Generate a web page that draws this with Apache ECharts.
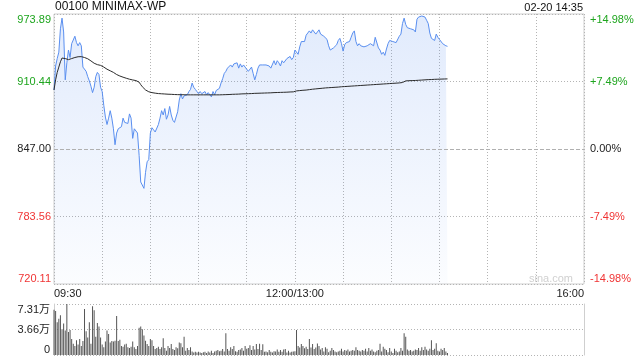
<!DOCTYPE html>
<html>
<head>
<meta charset="utf-8">
<script src="https://cdn.jsdelivr.net/npm/echarts@6/dist/echarts.min.js"></script>
<style>
html,body{margin:0;padding:0;background:#fff;}
#c{width:640px;height:360px;}
</style>
</head>
<body>
<div id="c"></div>
<script>
// ---- data ----
const stockTitle = '00100 MINIMAX-WP';
const stamp = '02-20 14:35';
const prevClose = 847.00;
const halfRange = 126.89;      // 14.98% of previous close
const step = 63.445;
const priceTickLabels = ['720.11', '783.56', '847.00', '910.44', '973.89'];
const pctTickLabels = ['-14.98%', '-7.49%', '0.00%', '+7.49%', '+14.98%'];
const volMax = 7.31;
const volTickLabels = ['0', '3.66万', '7.31万'];
const xTickLabels = {0: '09:30', 150: '12:00/13:00', 330: '16:00'};

const price = [
902.5, 925, 932, 938, 960, 970, 957, 912, 928, 940,
933, 946, 947, 953, 947, 944, 947, 944, 924, 924,
920, 915, 911, 906, 900, 905, 915, 919, 917, 905,
901, 888, 877, 870, 876, 883, 876, 866, 851, 862,
866, 865, 868, 876, 872, 873, 871, 880, 876, 857,
866, 867, 862, 841, 816, 815, 810, 825, 835, 837,
862, 867, 865, 863, 862, 870, 876, 883, 879, 885,
875, 879, 887, 879, 874, 872, 871, 882, 893, 899,
894, 897, 897, 898, 901, 903, 909, 905, 903, 901,
899, 901, 899, 898, 901, 898, 900, 899, 896, 901,
898, 902, 901, 904, 909, 913, 918, 920, 923, 924,
926, 924, 927, 926, 928, 923, 927, 924, 926, 924,
923, 920, 921, 924, 918, 912, 917, 923, 926, 926,
926, 926, 926, 925, 925, 923, 924, 930, 926, 930,
928, 925, 930, 928, 929, 932, 931, 934, 931, 933,
940, 941, 936, 943, 948, 949, 948, 954, 956, 958,
956, 959, 959, 955, 956, 959, 955, 954, 953, 952,
950, 944, 940, 941, 942, 942, 945, 949, 951, 946,
939, 945, 947, 946, 948, 952, 956, 958, 948, 944,
946, 944, 943, 943, 944, 944, 945, 946, 945, 944,
952, 951, 942, 940, 936, 938, 935, 941, 946, 949,
948, 948, 947, 947, 947, 953, 955, 965, 970, 964,
961, 960, 960, 960, 959, 957, 969, 971, 972, 972,
973.5, 971, 968, 965, 956, 951, 952, 949, 955, 952,
950, 951, 946, 945, 944, 943.5
];

const avgPrice = [
902.5, 912, 919, 924, 929, 932.5, 933.5, 932, 931, 931,
931.5, 932, 932.5, 933, 933.5, 933.7, 933.8, 933.8, 933.5, 933,
932.5, 931.8, 930.8, 929.8, 928.6, 927.6, 926.8, 926.3, 926, 925.6,
925, 924, 923, 922, 921.2, 920.5, 919.8, 919, 918, 917,
916.2, 915.6, 915, 914.5, 914, 913.5, 913, 912.6, 912.3, 911.9,
911.6, 911.3, 911, 909.8, 907.5, 905.5, 903.8, 902.5, 901.5, 900.8,
900.3, 900, 899.7, 899.5, 899.3, 899.1, 899, 898.9, 898.8, 898.7,
898.6, 898.5, 898.5, 898.4, 898.3, 898.2, 898.1, 898.1, 898, 898,
898, 898, 897.9, 897.9, 897.9, 897.9, 897.9, 897.9, 897.9, 897.9,
897.9, 897.9, 897.9, 897.9, 897.9, 897.9, 897.9, 897.9, 897.9, 897.9,
897.9, 897.9, 897.9, 897.9, 898, 898, 898.1, 898.1, 898.2, 898.2,
898.3, 898.4, 898.4, 898.5, 898.5, 898.6, 898.7, 898.8, 898.8, 898.9,
898.9, 899, 899.1, 899.1, 899.2, 899.3, 899.3, 899.4, 899.5, 899.5,
899.5, 899.6, 899.7, 899.7, 899.8, 899.8, 899.9, 900, 900, 900.1,
900.1, 900.2, 900.3, 900.3, 900.4, 900.4, 900.5, 900.6, 900.6, 900.7,
900.8, 901.6, 901.8, 901.9, 902, 902.2, 902.3, 902.4, 902.6, 902.8,
903, 903.2, 903.3, 903.5, 903.6, 903.8, 903.9, 904.1, 904.2, 904.4,
904.5, 904.6, 904.7, 904.8, 904.9, 905, 905.1, 905.2, 905.4, 905.5,
905.6, 905.7, 905.8, 905.9, 906, 906.1, 906.2, 906.3, 906.4, 906.5,
906.6, 906.7, 906.8, 906.9, 907, 907.1, 907.2, 907.3, 907.4, 907.5,
907.6, 907.7, 907.8, 907.9, 908, 908.1, 908.2, 908.3, 908.4, 908.5,
908.6, 908.7, 908.8, 908.9, 909, 909.1, 909.2, 909.5, 910.3, 911,
911.1, 911.2, 911.2, 911.3, 911.3, 911.4, 911.5, 911.6, 911.7, 911.8,
911.9, 912, 912.1, 912.2, 912.3, 912.3, 912.4, 912.5, 912.6, 912.6,
912.7, 912.7, 912.8, 912.8, 912.9, 912.9
];

// volume in 万 shares
const volume = [
6.5, 6.3, 4.7, 5.2, 5.7, 3.7, 4.5, 3.5, 7.31, 3.3,
3.6, 2.3, 1.6, 1.3, 2.1, 1.5, 2.3, 1.3, 2.0, 6.6,
3.4, 2.5, 4.7, 1.6, 7.0, 6.4, 2.6, 4.6, 4.1, 2.5,
1.5, 1.1, 1.95, 3.5, 3.0, 1.8, 2.0, 1.95, 2.05, 5.6,
2.0, 2.2, 1.3, 1.2, 1.5, 1.6, 1.1, 1.0, 1.2, 1.95,
1.1, 0.85, 1.3, 3.9, 4.1, 3.7, 2.8, 2.05, 1.56, 1.3,
2.3, 2.1, 1.3, 0.85, 1.0, 1.2, 0.85, 1.1, 2.4, 1.0,
0.6, 1.3, 1.0, 1.56, 0.85, 0.7, 1.1, 0.95, 1.8, 1.7,
1.1, 2.6, 0.6, 1.0, 0.7, 1.1, 0.5, 0.35, 0.45, 0.35,
0.45, 0.35, 0.3, 0.4, 0.45, 0.3, 0.5, 0.35, 0.6, 0.3,
0.5, 0.6, 0.7, 0.55, 0.6, 0.85, 0.5, 3.1, 0.85, 0.6,
1.1, 0.85, 1.3, 0.55, 0.45, 0.7, 0.8, 1.0, 0.6, 1.3,
0.9, 1.0, 1.4, 0.7, 1.3, 0.8, 1.56, 0.85, 1.6, 0.7,
1.55, 0.45, 0.5, 0.4, 0.7, 0.45, 0.35, 0.55, 0.5, 0.8,
0.45, 0.7, 0.45, 0.8, 0.85, 0.35, 0.6, 0.35, 0.45, 0.5,
0.55, 3.6, 1.3, 1.07, 1.56, 1.3, 0.95, 1.2, 0.85, 2.3,
1.07, 1.56, 0.85, 1.07, 1.65, 1.3, 0.8, 1.0, 0.5, 1.1,
0.9, 0.4, 0.6, 1.0, 0.7, 0.5, 0.4, 0.5, 0.6, 0.9,
0.5, 0.7, 0.6, 0.8, 0.5, 0.6, 0.7, 0.6, 1.1, 0.7,
0.6, 0.5, 0.7, 0.6, 0.9, 0.5, 1.0, 0.6, 0.8, 0.5,
0.4, 0.6, 0.7, 1.6, 0.5, 1.2, 0.9, 0.7, 0.4, 1.0,
0.5, 0.3, 0.9, 0.6, 0.4, 0.5, 1.0, 0.6, 3.1, 2.6,
0.8, 0.6, 0.7, 0.5, 0.6, 0.8, 0.7, 1.0, 0.6, 1.1,
0.7, 1.2, 0.8, 0.6, 0.9, 2.1, 0.7, 0.9, 1.7, 0.6,
0.5, 0.9, 0.7, 1.0, 0.5, 0.3
];

// trading minutes: 09:30..12:00 then 13:01..16:00
const minutes = [];
function pad(n){return (n<10?'0':'')+n;}
for (let t = 9*60+30; t <= 12*60; t++) minutes.push(pad(Math.floor(t/60))+':'+pad(t%60));
minutes[minutes.length-1] = '12:00/13:00';
for (let t = 13*60+1; t <= 16*60; t++) minutes.push(pad(Math.floor(t/60))+':'+pad(t%60));

// ---- chart ----
const FONT = '"Liberation Sans", Arial, "Noto Sans CJK SC", sans-serif';
const GREEN = '#1ea51e', RED = '#f03434', DARK = '#222';
const GRIDC = '#b4b4b4';
const chart = echarts.init(document.getElementById('c'), null, {renderer: 'canvas'});

function tickIndex(v){ return Math.round((v + halfRange) / step); }
function richFor(i){ return i > 2 ? 'g' : (i < 2 ? 'r' : 'n'); }
const rich = {
  g: {color: GREEN, fontSize: 11, fontFamily: FONT},
  r: {color: RED, fontSize: 11, fontFamily: FONT},
  n: {color: DARK, fontSize: 11, fontFamily: FONT}
};

const gridL = 54, gridR = 56;
const option = {
  animation: false,
  backgroundColor: '#fff',
  grid: [
    {left: gridL, right: gridR, top: 14, height: 270, show: true, borderColor: '#cfcfcf', borderWidth: 1},
    {left: gridL, right: gridR, top: 304, height: 51, show: false}
  ],
  xAxis: [
    {
      type: 'category', gridIndex: 0, data: minutes, boundaryGap: false,
      axisLine: {show: false}, axisTick: {show: false},
      axisLabel: {
        show: true, margin: 4, fontSize: 11, fontFamily: FONT, color: DARK,
        interval: function (i) { return xTickLabels[i] !== undefined; },
        formatter: function (v, i) { return xTickLabels[i] || ''; },
        alignMinLabel: 'left', alignMaxLabel: 'right'
      },
      splitLine: {show: true, interval: function (i) { return i % 30 === 0; },
        lineStyle: {type: [1, 2], color: GRIDC, width: 1}}
    },
    {
      type: 'category', gridIndex: 1, data: minutes, boundaryGap: false,
      axisLine: {show: false}, axisTick: {show: false}, axisLabel: {show: false}, splitLine: {show: false}
    }
  ],
  yAxis: [
    {
      type: 'value', gridIndex: 0, min: -halfRange, max: halfRange, interval: step,
      axisLine: {show: false}, axisTick: {show: false},
      splitLine: {show: true, lineStyle: {type: [1, 2], color: GRIDC, width: 1}},
      axisLabel: {
        margin: 3, fontSize: 11, fontFamily: FONT,
        verticalAlignMaxLabel: 'top', verticalAlignMinLabel: 'bottom',
        formatter: function (v) { const i = tickIndex(v); return '{' + richFor(i) + '|' + priceTickLabels[i] + '}'; },
        rich: rich
      }
    },
    {
      type: 'value', gridIndex: 0, position: 'right', min: -halfRange, max: halfRange, interval: step,
      axisLine: {show: false}, axisTick: {show: false}, splitLine: {show: false},
      axisLabel: {
        margin: 6, fontSize: 11, fontFamily: FONT,
        verticalAlignMaxLabel: 'top', verticalAlignMinLabel: 'bottom',
        formatter: function (v) { const i = tickIndex(v); return '{' + richFor(i) + '|' + pctTickLabels[i] + '}'; },
        rich: rich
      }
    },
    {
      type: 'value', gridIndex: 1, min: 0, max: volMax, interval: volMax / 2,
      axisLine: {show: true, lineStyle: {color: '#cfcfcf'}}, axisTick: {show: false},
      splitLine: {show: true, lineStyle: {type: [1, 2], color: GRIDC, width: 1}},
      axisLabel: {
        margin: 4, fontSize: 11, fontFamily: FONT, color: DARK,
        verticalAlignMaxLabel: 'top', verticalAlignMinLabel: 'bottom',
        formatter: function (v) { return volTickLabels[Math.round(v / (volMax / 2))]; }
      }
    },
    {
      type: 'value', gridIndex: 1, position: 'right', min: 0, max: volMax, interval: volMax / 2,
      axisLine: {show: true, lineStyle: {color: '#cfcfcf'}}, axisTick: {show: false},
      splitLine: {show: false}, axisLabel: {show: false}
    }
  ],
  series: [
    {
      type: 'line', xAxisIndex: 0, yAxisIndex: 0,
      data: price.map(function (p) { return +(p - prevClose).toFixed(3); }),
      showSymbol: false, symbol: 'none', smooth: false,
      lineStyle: {color: '#5a8ff0', width: 1},
      areaStyle: {
        origin: 'start',
        color: new echarts.graphic.LinearGradient(0, 0, 0, 1, [
          {offset: 0, color: 'rgba(90,143,240,0.26)'},
          {offset: 1, color: 'rgba(90,143,240,0.03)'}
        ])
      },
      markLine: {
        silent: true, symbol: 'none', label: {show: false},
        lineStyle: {type: [4, 2], color: '#b0b0b0', width: 1},
        data: [{yAxis: 0}]
      },
      z: 2
    },
    {
      type: 'line', xAxisIndex: 0, yAxisIndex: 0,
      data: avgPrice.map(function (p) { return +(p - prevClose).toFixed(3); }),
      showSymbol: false, symbol: 'none', smooth: false,
      lineStyle: {color: '#2b2b2b', width: 1},
      z: 3
    },
    {
      type: 'bar', xAxisIndex: 1, yAxisIndex: 2,
      data: volume, barWidth: 1,
      itemStyle: {color: '#555'}
    }
  ],
  graphic: [
    {type: 'text', left: 55, top: 1, style: {text: stockTitle, font: '12px ' + FONT, fill: '#111'}},
    {type: 'text', right: 57, top: 2, style: {text: stamp, font: '11px ' + FONT, fill: '#111'}},
    {type: 'text', right: 67, top: 273, style: {text: 'sina.com', font: '11px ' + FONT, fill: '#d0d0d0'}}
  ]
};
chart.setOption(option);
</script>
</body>
</html>
